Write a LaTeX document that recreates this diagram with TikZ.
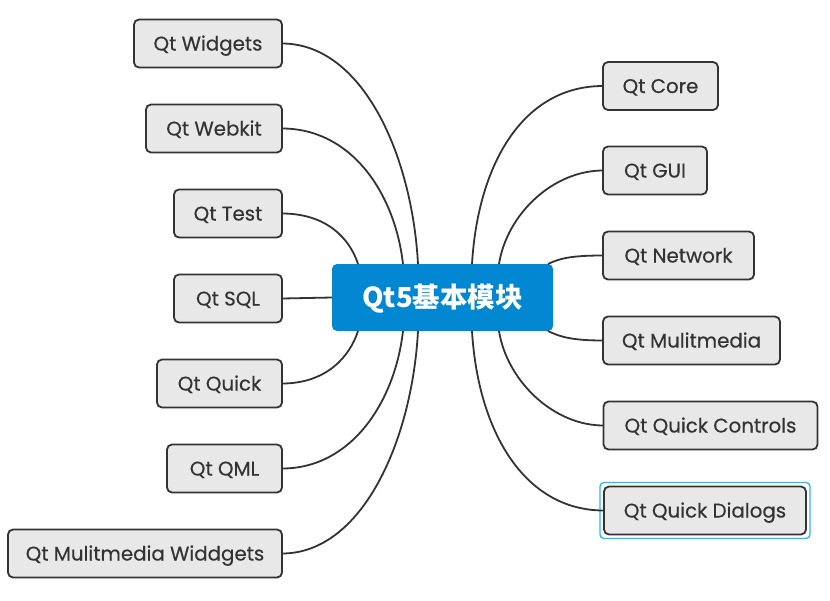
\documentclass[tikz,border=0pt]{standalone}
\usepackage{fontspec}
\setmainfont{Poppins}
\newfontfamily\leaffont{Poppins}[FakeBold=0.35]
\newfontfamily\cjk{Noto Sans CJK SC}
\definecolor{leaffill}{RGB}{232,232,232}
\definecolor{leafdraw}{RGB}{51,51,51}
\definecolor{hubblue}{RGB}{2,136,210}
\definecolor{selblue}{RGB}{41,182,246}
\begin{document}
\begin{tikzpicture}[x=1pt,y=-1pt,
  leaf/.style={draw=leafdraw,fill=leaffill,line width=1.8pt,rounded corners=5pt,
    minimum height=48pt,inner sep=0pt,outer sep=0pt,text=leafdraw,
    text height=14pt,text depth=0pt,
    font=\leaffont\fontsize{19.8}{22}\selectfont},
  hub/.style={fill=hubblue,rounded corners=5pt,minimum width=221pt,minimum height=67pt,
    inner sep=0pt,outer sep=0pt,text=white,text height=19pt,text depth=0pt,
    font=\cjk\bfseries\fontsize{27.5}{32}\selectfont},
  link/.style={draw=leafdraw,line width=1.8pt}]
\useasboundingbox (0,0) rectangle (830,600);
% hub
\node[hub] (c) at (442.5,297.5) {Qt5基本模块};
% left leaves
\node[leaf,minimum width=148pt] (l1) at (208,43.5) {Qt Widgets};
\node[leaf,minimum width=136pt] (l2) at (214,128.5) {Qt Webkit};
\node[leaf,minimum width=108pt] (l3) at (228,213.5) {Qt Test};
\node[leaf,minimum width=108pt] (l4) at (228,298.5) {Qt SQL};
\node[leaf,minimum width=125pt] (l5) at (219.5,383.5) {Qt Quick};
\node[leaf,minimum width=115pt] (l6) at (224.5,468.5) {Qt QML};
\node[leaf,minimum width=274pt] (l7) at (145,553.5) {Qt Mulitmedia Widdgets};
% right leaves
\node[leaf,minimum width=115pt] (r1) at (660.5,86) {Qt Core};
\node[leaf,minimum width=104pt] (r2) at (655,170.5) {Qt GUI};
\node[leaf,minimum width=151pt] (r3) at (678.5,255.5) {Qt Network};
\node[leaf,minimum width=177pt] (r4) at (691.5,340.5) {Qt Mulitmedia};
\node[leaf,minimum width=214pt] (r5) at (710.5,425.5) {Qt Quick Controls};
\node[leaf,minimum width=202pt] (r6) at (705,510.5) {Qt Quick Dialogs};
% selection outline
\draw[selblue,line width=1.3pt,rounded corners=4pt] ([shift={(-4,-4)}]r6.north west) rectangle ([shift={(4,4)}]r6.south east);
% connectors left
\draw[link] (l1.east) .. controls +(80,0) and +(-6,-110) .. ([xshift=-24.5pt]c.north);
\draw[link] (l2.east) .. controls +(70,0) and +(-8,-70) .. ([xshift=-39.5pt]c.north);
\draw[link] (l3.east) .. controls +(45,0) and +(-8,-25) .. ([xshift=-84.5pt]c.north);
\draw[link] (l4.east) -- (c.west);
\draw[link] (l5.east) .. controls +(45,0) and +(-8,25) .. ([xshift=-84.5pt]c.south);
\draw[link] (l6.east) .. controls +(70,0) and +(-8,70) .. ([xshift=-39.5pt]c.south);
\draw[link] (l7.east) .. controls +(80,0) and +(-6,110) .. ([xshift=-24.5pt]c.south);
% connectors right
\draw[link] (r1.west) .. controls +(-80,0) and +(6,-100) .. ([xshift=29.5pt]c.north);
\draw[link] (r2.west) .. controls +(-50,0) and +(8,-50) .. ([xshift=56.5pt]c.north);
\draw[link] (r3.west) .. controls +(-30,0) and +(12,-6) .. ([xshift=-5pt]c.north east);
\draw[link] (r4.west) .. controls +(-30,0) and +(12,6) .. ([xshift=-5pt]c.south east);
\draw[link] (r5.west) .. controls +(-50,0) and +(8,50) .. ([xshift=56.5pt]c.south);
\draw[link] (r6.west) .. controls +(-80,0) and +(6,100) .. ([xshift=29.5pt]c.south);
\end{tikzpicture}
\end{document}
